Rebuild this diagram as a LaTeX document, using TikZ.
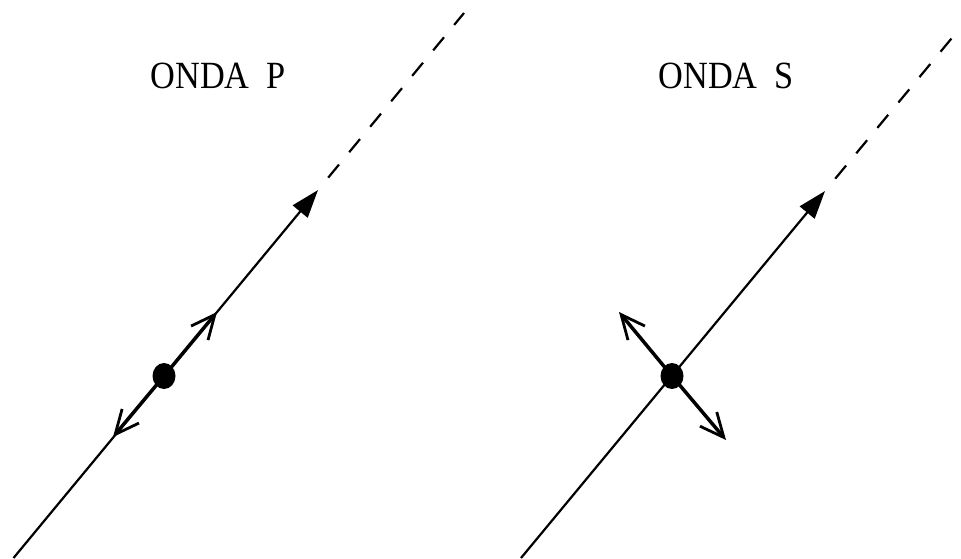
\documentclass[tikz,border=0pt]{standalone}
\usepackage{fontspec}
\setmainfont{Liberation Serif}
\usetikzlibrary{arrows.meta,shapes.geometric}
\begin{document}
\begin{tikzpicture}[x=1pt,y=-1pt,
  ray/.style={line width=2.2pt},
  dashray/.style={line width=2.2pt,dash pattern=on 17pt off 16pt,dash phase=17pt},
  fwd/.style={-{Triangle[length=28pt,width=19pt]}},
  pol/.style={line width=3.5pt,-{Straight Barb[length=24pt,width=22pt,line width=2.8pt]}},
  particle/.style={ellipse,fill=black,inner sep=0pt,minimum width=23pt,minimum height=26pt},
  title/.style={anchor=base west,font=\fontsize{35}{40}\selectfont}]
\useasboundingbox (0,0) rectangle (961,558);
% P wave
\node[title] (tP) at (147,88) {\scalebox{0.98}[1.1]{ONDA\ \ P}};
\coordinate (Pbot) at (13.5,558);
\coordinate (Ptip) at (318,190);
\coordinate (Ptop) at (464,13);
\coordinate (Pup) at (217,312);
\coordinate (Pdn) at (113,437);
\draw[ray,fwd] (Pbot) -- (Ptip);
\draw[dashray] (Ptip) -- (Ptop);
\node[particle] (Pdot) at (164,376) {};
\draw[pol] (Pdot.center) -- (Pup);
\draw[pol] (Pdot.center) -- (Pdn);
% S wave
\node[title] (tS) at (655,88) {\scalebox{0.98}[1.1]{ONDA\ \ S}};
\coordinate (Sbot) at (521,558);
\coordinate (Stip) at (825,191);
\coordinate (Stop) at (961,27);
\coordinate (Sul) at (619,312);
\coordinate (Slr) at (726,440);
\coordinate (Sc) at (672,376);
\draw[ray,fwd] (Sbot) -- (Stip);
\draw[dashray] (Stip) -- (Stop);
\draw[pol] (Sc) -- (Sul);
\draw[pol] (Sc) -- (Slr);
\node[particle] (Sdot) at (Sc) {};
\end{tikzpicture}
\end{document}
